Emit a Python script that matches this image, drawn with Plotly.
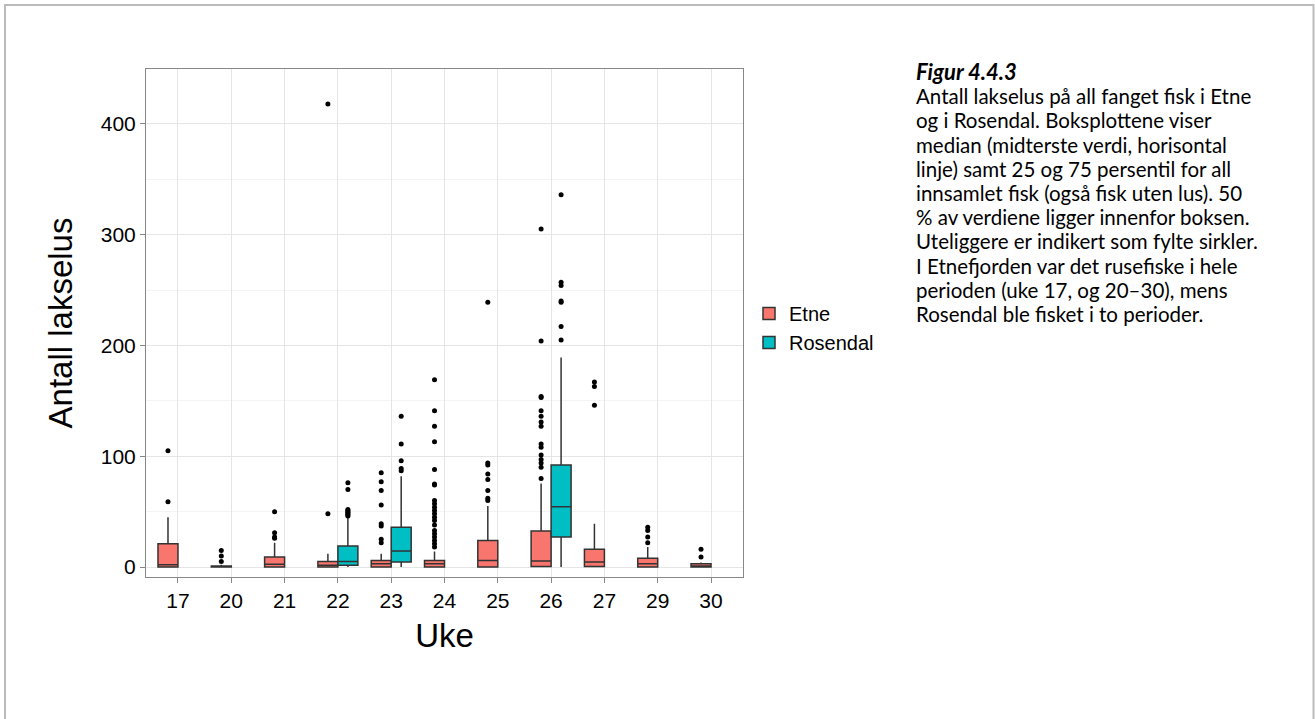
import plotly.graph_objects as go

weeks = ["17", "20", "21", "22", "23", "24", "25", "26", "27", "29", "30"]

# Etne box statistics per week
etne_q1 = [0, 0, 0, 0, 0, 0, 0, 0.5, 0.5, 0, 0]
etne_median = [2, 0, 2.5, 1.5, 3, 3, 6, 5.5, 4.5, 3, 1]
etne_q3 = [21, 1, 9, 5, 6, 6, 24, 32.5, 16, 8, 3]
etne_low = [0, 0, 0, 0, 0, 0, 0, 0, 0, 0, 0]
etne_high = [45, 2, 22, 12, 12, 14, 55, 75.5, 39, 18, 4]
etne_outliers = [
    [59, 105],
    [5, 10, 15],
    [26, 27, 31, 50],
    [48, 418],
    [22, 25, 37, 39, 56, 69, 77, 85],
    [18, 21, 24, 27, 30, 33, 38, 42, 45, 48, 51, 54, 57, 60, 74, 75, 88, 113, 127, 141, 169],
    [60, 62, 69, 79, 84, 92, 94, 239],
    [80, 90, 94, 97, 101, 108, 111, 127, 131, 136, 141, 153, 154, 204, 305],
    [146, 163, 167],
    [22, 27, 33, 36],
    [9, 16],
]

# Rosendal box statistics per week
ros_weeks = ["22", "23", "26"]
ros_q1 = [1.5, 4.5, 27]
ros_median = [5, 14.5, 54.5]
ros_q3 = [19, 36, 92]
ros_low = [0, 0, 0]
ros_high = [45, 82, 189]
ros_outliers = [
    [46, 47, 48, 49, 50, 51, 52, 70, 76],
    [87, 89, 96, 111, 136],
    [205, 217, 239, 240, 254, 257, 336],
]

caption_title = "Figur 4.4.3"
caption_lines = [
    "Antall lakselus på all fanget fisk i Etne",
    "og i Rosendal. Boksplottene viser",
    "median (midterste verdi, horisontal",
    "linje) samt 25 og 75 persentil for all",
    "innsamlet fisk (også fisk uten lus). 50",
    "% av verdiene ligger innenfor boksen.",
    "Uteliggere er indikert som fylte sirkler.",
    "I Etnefjorden var det rusefiske i hele",
    "perioden (uke 17, og 20–30), mens",
    "Rosendal ble fisket i to perioder.",
]

ETNE_COLOR = "#F8766D"
ROS_COLOR = "#00BFC4"

fig = go.Figure()
for name, xs, q1, med, q3, lo, hi, outs, col in [
    ("Etne", weeks, etne_q1, etne_median, etne_q3, etne_low, etne_high, etne_outliers, ETNE_COLOR),
    ("Rosendal", ros_weeks, ros_q1, ros_median, ros_q3, ros_low, ros_high, ros_outliers, ROS_COLOR),
]:
    fig.add_trace(go.Box(
        name=name, x=xs, y=outs,
        q1=q1, median=med, q3=q3, lowerfence=lo, upperfence=hi,
        boxpoints="outliers", jitter=0, pointpos=0,
        fillcolor=col,
        line=dict(color="#333333", width=1.5),
        marker=dict(color="black", size=5, outliercolor="black",
                    line=dict(width=0)),
        whiskerwidth=0,
        hoverinfo="skip",
    ))

L, R, T, B = 146, 743, 69, 577
W, H = 1315, 719
pw, ph = R - L, B - T

def px_x(x):
    return (x - L) / pw

def px_y(y):
    return (B - y) / ph

CAP_FONT = "Lato, sans-serif"
CAP_SIZE = 20.5
CAP_X = 914
first_baseline = 80
line_step = 24.2

annotations = []
all_lines = [caption_title] + caption_lines
for i, txt in enumerate(all_lines):
    baseline = first_baseline + i * line_step
    size = 22 if i == 0 else CAP_SIZE
    label = "<b><i>" + txt + "</i></b>" if i == 0 else txt
    annotations.append(dict(
        text=label, xref="paper", yref="paper",
        x=px_x(CAP_X), y=px_y(baseline - 0.39 * size),
        xanchor="left", yanchor="middle", align="left", showarrow=False,
        font=dict(family=CAP_FONT, size=size, color="black"),
    ))

fig.update_layout(
    width=W, height=H,
    margin=dict(l=L, r=W - R, t=T, b=H - B),
    paper_bgcolor="white", plot_bgcolor="white",
    boxmode="group", boxgap=0.25, boxgroupgap=0,
    font=dict(family="Liberation Sans, Arial, sans-serif", color="black"),
    showlegend=True,
    legend=dict(x=px_x(749), y=px_y(328), xanchor="left", yanchor="middle",
                font=dict(size=20, color="black"), bgcolor="rgba(0,0,0,0)",
                tracegroupgap=0, itemwidth=30),
    xaxis=dict(
        type="category", categoryorder="array", categoryarray=weeks,
        range=[-0.6, 10.6],
        showgrid=True, gridcolor="#e5e5e5", gridwidth=1,
        showline=True, mirror=True, linecolor="#888888", linewidth=1,
        ticks="outside", ticklen=5, tickcolor="#888888",
        tickfont=dict(size=21, color="black"),
        title=dict(text="Uke", font=dict(size=33, color="black"), standoff=12),
        zeroline=False, fixedrange=True,
    ),
    yaxis=dict(
        range=[-9, 449.5],
        tickmode="array", tickvals=[0, 100, 200, 300, 400],
        showgrid=True, gridcolor="#e5e5e5", gridwidth=1,
        minor=dict(showgrid=True, gridcolor="#f4f4f4", tickvals=[50, 150, 250, 350]),
        showline=True, mirror=True, linecolor="#888888", linewidth=1,
        ticks="outside", ticklen=5, tickcolor="#888888",
        tickfont=dict(size=21, color="black"),
        title=dict(text="Antall lakselus", font=dict(size=33, color="black"), standoff=18),
        zeroline=False, fixedrange=True,
    ),
    annotations=annotations,
    shapes=[dict(
        type="rect", xref="paper", yref="paper",
        x0=px_x(5), x1=px_x(1313.5), y0=px_y(740), y1=px_y(5),
        line=dict(color="#bbbbbb", width=2), fillcolor="rgba(0,0,0,0)",
        layer="below",
    )],
)

fig.write_html("out.html")
